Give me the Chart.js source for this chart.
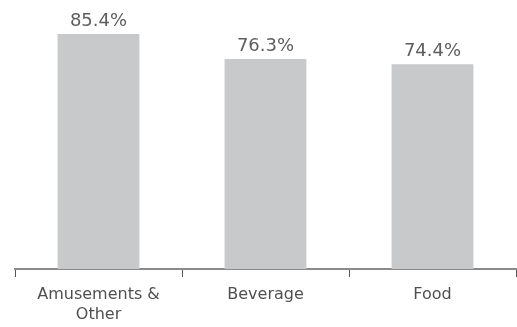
<!DOCTYPE html>
<html lang="en">
<head>
  <meta charset="UTF-8">
  <title>Bar chart</title>
  <script src="https://cdn.jsdelivr.net/npm/chart.js"></script>
  <style>
    body { margin: 0; background: #fff; }
    #chart { display: block; }
  </style>
</head>
<body>
  <canvas id="chart" width="517" height="327"></canvas>
  <script>
    const categories = [["Amusements &", "Other"], "Beverage", "Food"];
    const values = [85.4, 76.3, 74.4];
    const valueLabels = ["85.4%", "76.3%", "74.4%"];

    // writes the percent over each bar
    const topLabels = {
      id: "topLabels",
      afterDatasetsDraw(chart) {
        const ctx = chart.ctx;
        const meta = chart.getDatasetMeta(0);
        ctx.save();
        ctx.font = "18px 'DejaVu Sans', sans-serif";
        ctx.fillStyle = "#5e5e5e";
        ctx.textAlign = "center";
        ctx.textBaseline = "alphabetic";
        meta.data.forEach((bar, i) => {
          ctx.fillText(valueLabels[i], bar.x, bar.y - 8);
        });
        ctx.restore();
      }
    };

    new Chart(document.getElementById("chart"), {
      type: "bar",
      data: {
        labels: categories,
        datasets: [{
          data: values,
          backgroundColor: "#c8c9cb",
          categoryPercentage: 1,
          barPercentage: 0.49
        }]
      },
      options: {
        responsive: false,
        animation: false,
        layout: { padding: { left: 15, right: 1, top: 0, bottom: 0 } },
        plugins: { legend: { display: false }, tooltip: { enabled: false } },
        scales: {
          x: {
            afterFit(scale) { scale.height = 58; },
            grid: { offset: true, drawOnChartArea: false, tickLength: 8, color: "#555", lineWidth: 1 },
            border: { color: "#8a8a8a", width: 2 },
            ticks: {
              color: "#505050",
              padding: 8,
              font: { family: "'DejaVu Sans', sans-serif", size: 16, lineHeight: 1.25 }
            }
          },
          y: { display: false, min: 0, max: 97.75 }
        }
      },
      plugins: [topLabels]
    });
  </script>
</body>
</html>
